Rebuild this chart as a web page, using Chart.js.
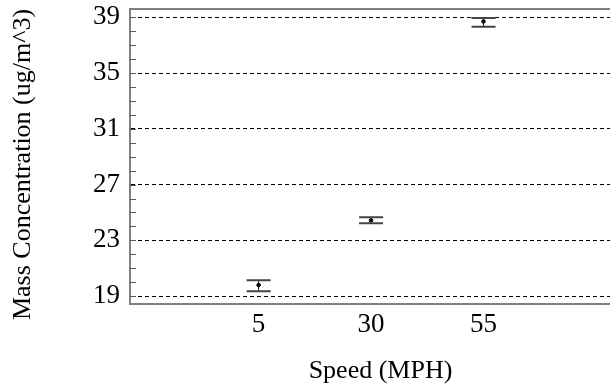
<!DOCTYPE html>
<html>
<head>
<meta charset="utf-8">
<script src="https://cdn.jsdelivr.net/npm/chart.js@4/dist/chart.umd.min.js"></script>
<style>
  html, body { margin: 0; padding: 0; background: #fff; }
  #wrap { width: 610px; height: 387px; overflow: hidden; }
</style>
</head>
<body>
<div id="wrap"><canvas id="chart" width="636" height="387"></canvas></div>
<script>
// speed categories and measured mass concentration (mean with min/max bars)
const speeds = [5, 30, 55]
const meanConc = [19.79, 24.43, 38.71]
const lowConc = [19.34, 24.22, 38.33]
const highConc = [20.13, 24.65, 38.96]
const yTicks = [19, 23, 27, 31, 35, 39]
const yTitle = 'Mass Concentration (ug/m^3)'

const serif = "'Liberation Serif', 'Times New Roman', serif"

// error bars drawn from the low/high arrays through the chart scales
const errorBars = {
  id: 'errorBars',
  afterDatasetsDraw(chart) {
    const { ctx, scales: { x, y } } = chart
    ctx.save()
    speeds.forEach((s, i) => {
      const px = x.getPixelForValue(s)
      const top = y.getPixelForValue(highConc[i])
      const bot = y.getPixelForValue(lowConc[i])
      ctx.strokeStyle = '#111'
      ctx.lineWidth = 1
      ctx.beginPath()
      ctx.moveTo(px, top)
      ctx.lineTo(px, bot)
      ctx.stroke()
      ctx.strokeStyle = '#444'
      ctx.lineWidth = 2
      ctx.beginPath()
      ctx.moveTo(px - 12, top)
      ctx.lineTo(px + 12, top)
      ctx.moveTo(px - 12, bot)
      ctx.lineTo(px + 12, bot)
      ctx.stroke()
    })
    ctx.restore()
  }
}

// top frame line, small inward ticks every 1 unit, and the rotated y title
const frame = {
  id: 'frame',
  afterDraw(chart) {
    const { ctx, chartArea, scales: { y } } = chart
    ctx.save()
    ctx.strokeStyle = '#808080'
    ctx.lineWidth = 2
    ctx.beginPath()
    ctx.moveTo(chartArea.left, chartArea.top)
    ctx.lineTo(chartArea.right, chartArea.top)
    ctx.stroke()
    ctx.strokeStyle = '#555'
    ctx.lineWidth = 1
    ctx.beginPath()
    for (let v = yTicks[0]; v <= yTicks[yTicks.length - 1]; v++) {
      const py = Math.round(y.getPixelForValue(v)) + 0.5
      ctx.moveTo(chartArea.left, py)
      ctx.lineTo(chartArea.left + 6, py)
    }
    ctx.stroke()

    // title sits a little below the plot's vertical middle
    ctx.translate(23, (chartArea.top + chartArea.bottom) / 2 + 8)
    ctx.rotate(-Math.PI / 2)
    ctx.fillStyle = '#000'
    ctx.font = `26px ${serif}`
    ctx.textAlign = 'center'
    ctx.textBaseline = 'middle'
    ctx.fillText(yTitle, 0, 0)
    ctx.restore()
  }
}

new Chart(document.getElementById('chart'), {
  type: 'scatter',
  data: {
    datasets: [{
      label: 'Mass Concentration',
      data: speeds.map((s, i) => ({ x: s, y: meanConc[i] })),
      backgroundColor: '#000',
      borderColor: '#000',
      pointRadius: 1.8,
      pointStyle: 'circle'
    }]
  },
  options: {
    responsive: false,
    animation: false,
    layout: { padding: { top: 9, left: 0, right: 0, bottom: 0 } },
    plugins: {
      legend: { display: false },
      tooltip: { enabled: false }
    },
    scales: {
      x: {
        type: 'linear',
        min: -23.6,
        max: 87.8,
        afterBuildTicks: scale => { scale.ticks = speeds.map(v => ({ value: v })) },
        afterFit: scale => {
          scale.height = 83
          scale.paddingLeft = 0
          scale.paddingRight = 0
        },
        grid: { display: false, drawTicks: false },
        border: { color: '#808080', width: 2 },
        ticks: {
          padding: 5,
          color: '#000',
          font: { family: serif, size: 27 }
        },
        title: {
          display: true,
          text: 'Speed (MPH)',
          color: '#000',
          padding: { top: 0, bottom: 0 },
          font: { family: serif, size: 26 }
        }
      },
      y: {
        min: 18.43,
        max: 39.6,
        afterBuildTicks: scale => { scale.ticks = yTicks.map(v => ({ value: v })) },
        afterFit: scale => {
          scale.width = 130
          scale.paddingTop = 0
          scale.paddingBottom = 0
        },
        grid: { color: '#000', lineWidth: 1, drawTicks: false },
        border: { color: '#808080', width: 2, dash: [4, 3] },
        ticks: {
          padding: 10,
          color: '#000',
          font: { family: serif, size: 27 }
        },
        title: { display: false }
      }
    }
  },
  plugins: [errorBars, frame]
})
</script>
</body>
</html>
